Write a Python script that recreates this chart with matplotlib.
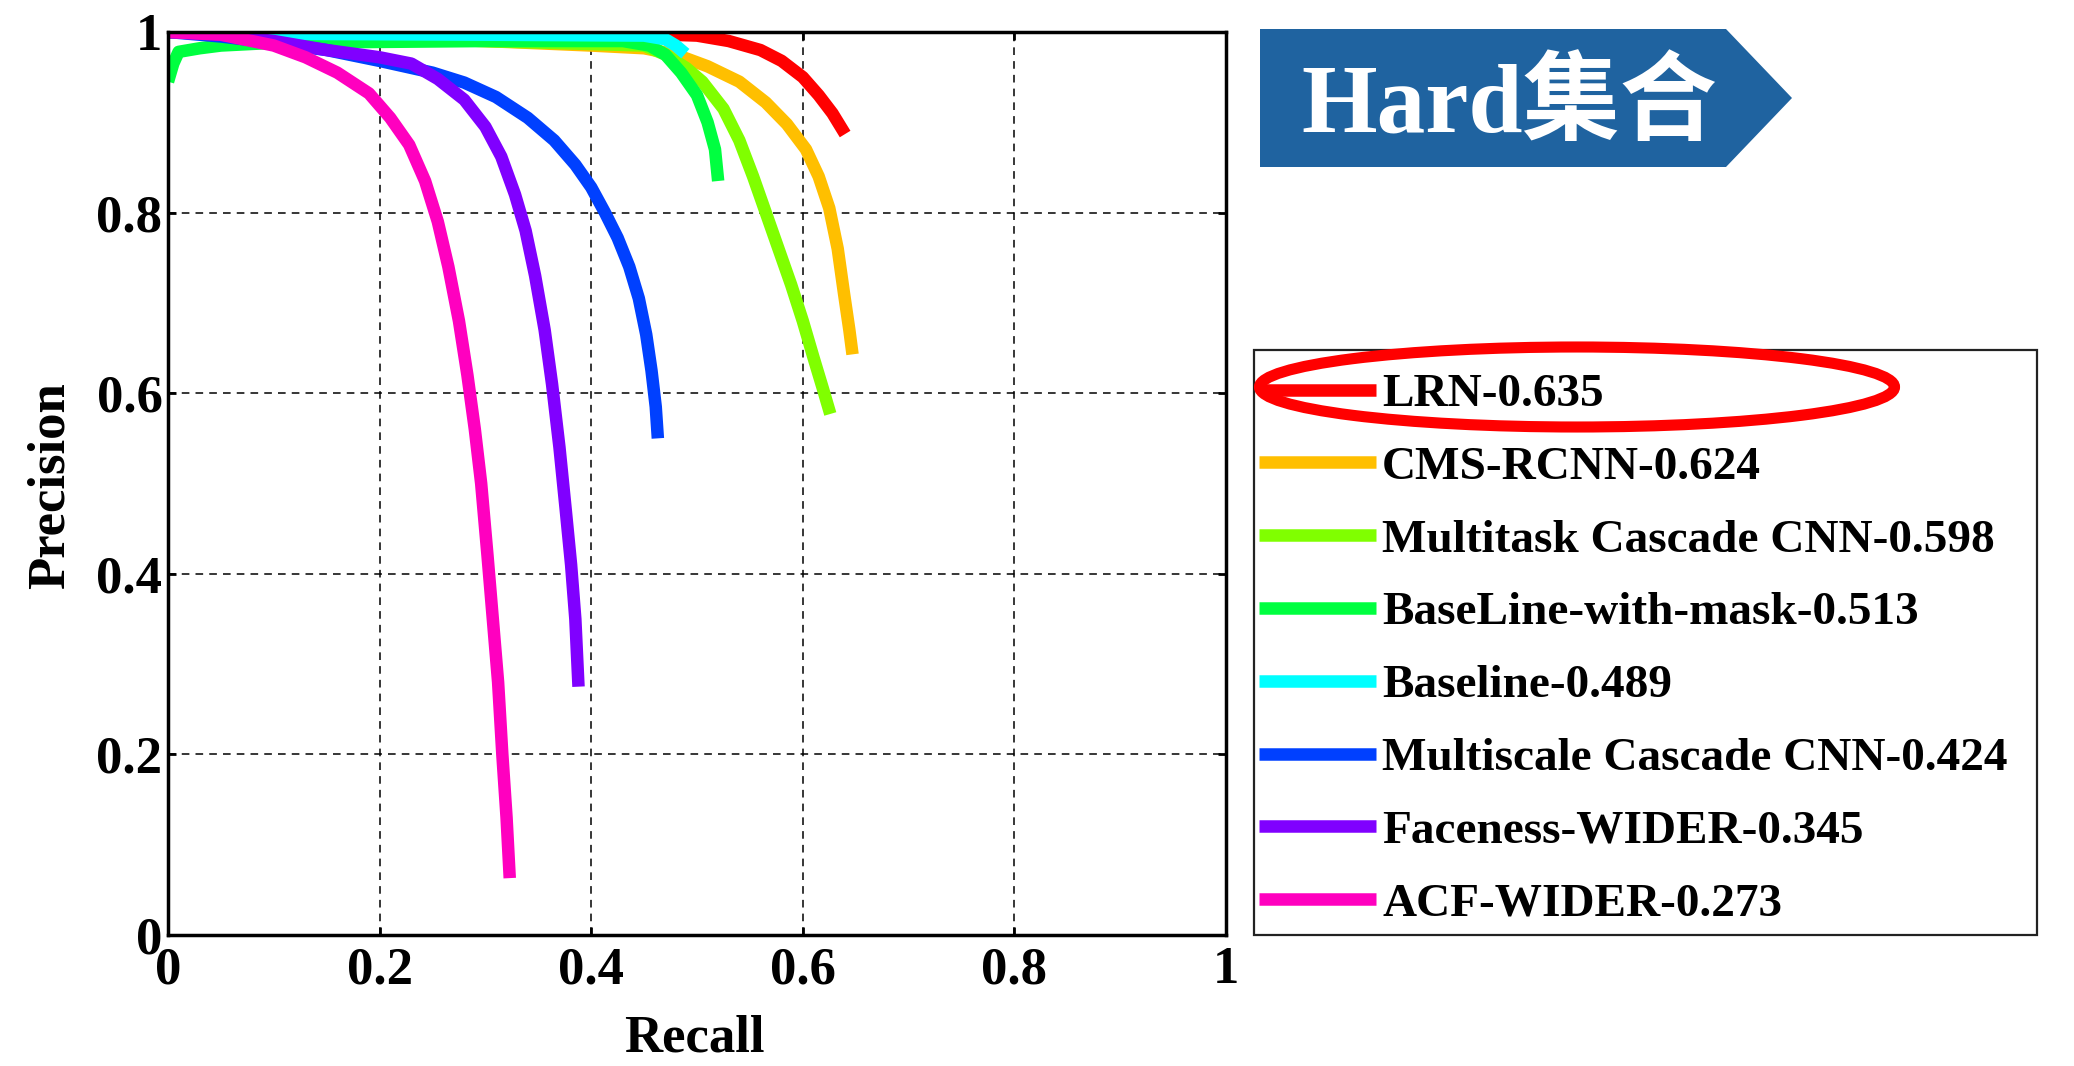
import numpy as np
import matplotlib.pyplot as plt
from matplotlib.patches import Ellipse, Rectangle, Polygon

# PR curves (recall, precision)
lrn_r = [0.0, 0.3, 0.45, 0.5, 0.53, 0.56, 0.58, 0.6, 0.615, 0.628, 0.64]
lrn_p = [1.0, 1.0, 0.998, 0.996, 0.99, 0.98, 0.968, 0.95, 0.93, 0.91, 0.887]

cms_r = [0.0, 0.3, 0.4, 0.45, 0.48, 0.51, 0.54, 0.565, 0.585, 0.603, 0.615, 0.625, 0.633, 0.639, 0.644, 0.647]
cms_p = [1.0, 0.99, 0.985, 0.982, 0.975, 0.962, 0.945, 0.922, 0.898, 0.87, 0.84, 0.805, 0.76, 0.71, 0.67, 0.643]

mtcnn_r = [0.0, 0.3, 0.45, 0.47, 0.49, 0.505, 0.525, 0.54, 0.553, 0.565, 0.577, 0.589, 0.6, 0.61, 0.619, 0.626]
mtcnn_p = [1.0, 0.99, 0.985, 0.975, 0.96, 0.945, 0.915, 0.88, 0.84, 0.8, 0.76, 0.72, 0.68, 0.64, 0.605, 0.577]

mask_r = [0.0, 0.005, 0.01, 0.03, 0.05, 0.1, 0.3, 0.43, 0.455, 0.47, 0.485, 0.5, 0.51, 0.517, 0.52]
mask_p = [0.945, 0.965, 0.978, 0.982, 0.985, 0.988, 0.99, 0.99, 0.985, 0.975, 0.955, 0.93, 0.9, 0.87, 0.835]

base_r = [0.0, 0.1, 0.3, 0.45, 0.47, 0.48, 0.489]
base_p = [1.0, 0.998, 0.997, 0.996, 0.992, 0.985, 0.976]

mscnn_r = [0.0, 0.05, 0.1, 0.15, 0.2, 0.25, 0.28, 0.31, 0.34, 0.365, 0.385, 0.4, 0.413, 0.425, 0.436, 0.445, 0.452, 0.457, 0.461, 0.463]
mscnn_p = [1.0, 0.995, 0.988, 0.98, 0.968, 0.955, 0.944, 0.928, 0.905, 0.88, 0.853, 0.828, 0.8, 0.772, 0.74, 0.705, 0.665, 0.625, 0.585, 0.55]

faceness_r = [0.0, 0.05, 0.1, 0.15, 0.2, 0.23, 0.255, 0.28, 0.3, 0.315, 0.328, 0.338, 0.347, 0.356, 0.363, 0.37, 0.376, 0.381, 0.385, 0.387, 0.388]
faceness_p = [1.0, 0.997, 0.99, 0.98, 0.972, 0.965, 0.948, 0.925, 0.895, 0.862, 0.82, 0.78, 0.73, 0.67, 0.61, 0.54, 0.47, 0.41, 0.35, 0.3, 0.275]

acf_r = [0.0, 0.05, 0.1, 0.13, 0.16, 0.19, 0.21, 0.228, 0.243, 0.255, 0.265, 0.275, 0.283, 0.29, 0.296, 0.302, 0.307, 0.312, 0.316, 0.32, 0.323]
acf_p = [1.0, 0.997, 0.985, 0.972, 0.955, 0.932, 0.905, 0.875, 0.835, 0.79, 0.74, 0.68, 0.62, 0.56, 0.5, 0.42, 0.35, 0.28, 0.2, 0.13, 0.063]

labels = ['LRN-0.635', 'CMS-RCNN-0.624', 'Multitask Cascade CNN-0.598',
          'BaseLine-with-mask-0.513', 'Baseline-0.489',
          'Multiscale Cascade CNN-0.424', 'Faceness-WIDER-0.345', 'ACF-WIDER-0.273']
colors = ['#ff0000', '#ffbf00', '#80ff00', '#00ff40', '#00ffff', '#0040ff', '#8000ff', '#ff00bf']
curves = [(lrn_r, lrn_p), (cms_r, cms_p), (mtcnn_r, mtcnn_p), (mask_r, mask_p),
          (base_r, base_p), (mscnn_r, mscnn_p), (faceness_r, faceness_p), (acf_r, acf_p)]

ticks = [0, 0.2, 0.4, 0.6, 0.8, 1]
tick_labels = ['0', '0.2', '0.4', '0.6', '0.8', '1']

plt.rcParams['font.family'] = ['Liberation Serif', 'Noto Sans CJK SC']
plt.rcParams['font.weight'] = 'bold'

W, H = 2074, 1066
fig = plt.figure(figsize=(W / 100, H / 100), dpi=100)
ax = fig.add_axes([168 / W, 1 - 935 / H, 1058 / W, 903 / H])

handles = []
for (r, p), c, lab in zip(curves, colors, labels):
    ln, = ax.plot(r, p, color=c, lw=9, label=lab, solid_capstyle='butt', solid_joinstyle='round')
    handles.append(ln)

ax.set_xlim(0, 1)
ax.set_ylim(0, 1)
ax.set_xticks(ticks)
ax.set_xticklabels(tick_labels)
ax.set_yticks(ticks)
ax.set_yticklabels(tick_labels)
ax.grid(True, color='black', linestyle=(0, (5, 4)), lw=1.1)
ax.tick_params(direction='in', length=6, width=2, top=True, right=True, labelsize=38)
ax.tick_params(axis='x', pad=8)
ax.tick_params(axis='y', pad=4)
for s in ax.spines.values():
    s.set_linewidth(2.5)

fig.text(51 / W, 1 - 486 / H, 'Precision', rotation=90, ha='center', va='center', fontsize=38)
fig.text(694 / W, 1 - 1038 / H, 'Recall', ha='center', va='center', fontsize=38)

# legend box
fig.legend(handles, labels, loc='upper left', bbox_to_anchor=(1259 / W, 1 - 373 / H),
           frameon=False, borderpad=0, borderaxespad=0, handlelength=2.48,
           handletextpad=0.13, labelspacing=0.63, prop=dict(size=34, weight='bold'))
fig.add_artist(Rectangle((1254 / W, 1 - 935 / H), (2037 - 1254) / W, (935 - 350) / H,
                         transform=fig.transFigure, fill=False, lw=1.6, edgecolor='#222222'))
fig.add_artist(Ellipse((1577 / W, 1 - 387 / H), 635 / W, 80 / H, transform=fig.transFigure,
                       fill=False, edgecolor='red', lw=8))

# banner
pts = [(1260, 29), (1726, 29), (1792, 98), (1726, 167), (1260, 167)]
fig.add_artist(Polygon([(x / W, 1 - y / H) for x, y in pts], closed=True,
                       transform=fig.transFigure, facecolor='#1f63a0', edgecolor='none'))
fig.text(1509 / W, 1 - 107 / H, 'Hard集合', color='white', ha='center', va='center',
         fontsize=70, fontweight='bold')

fig.savefig('out.png', dpi=100)
